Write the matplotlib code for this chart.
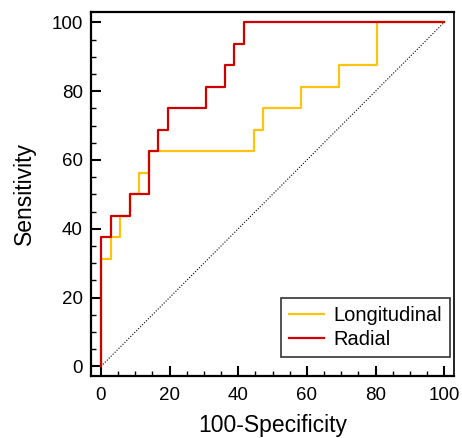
import numpy as np
import matplotlib.pyplot as plt
from matplotlib.ticker import MultipleLocator

plt.rcParams['font.family'] = ['Liberation Sans', 'DejaVu Sans']

# ROC data: cumulative false-positive / true-positive counts at each cut-off
n_neg = 36
n_pos = 16

long_fp = [0, 1, 2, 3, 4, 5, 16, 17, 21, 25, 29, 36]
long_tp = [0, 5, 6, 7, 8, 9, 10, 11, 12, 13, 14, 16]

radial_fp = [0, 1, 3, 5, 6, 7, 11, 13, 14, 15, 36]
radial_tp = [0, 6, 7, 8, 10, 11, 12, 13, 14, 15, 16]

series_names = ["Longitudinal", "Radial"]
series_colors = ["#FFC20E", "#D00000"]


def to_pct(counts, total):
    return np.array(counts) / total * 100


fig = plt.figure(figsize=(4.62, 4.38), dpi=100)
ax = fig.add_axes([0.197, 0.1416, 0.786, 0.831])

# reference diagonal
ax.plot([0, 100], [0, 100], color="black", lw=0.8, ls=(0, (1, 1.5)), zorder=1)

ax.plot(to_pct(long_fp, n_neg), to_pct(long_tp, n_pos), drawstyle="steps-pre",
        color=series_colors[0], lw=1.6, label=series_names[0], zorder=2)
ax.plot(to_pct(radial_fp, n_neg), to_pct(radial_tp, n_pos), drawstyle="steps-pre",
        color=series_colors[1], lw=1.6, label=series_names[1], zorder=3)

ax.set_xlim(-2.9, 102.9)
ax.set_ylim(-2.8, 103)
ax.xaxis.set_major_locator(MultipleLocator(20))
ax.yaxis.set_major_locator(MultipleLocator(20))
ax.xaxis.set_minor_locator(MultipleLocator(5))
ax.yaxis.set_minor_locator(MultipleLocator(5))
ax.tick_params(which="major", direction="in", length=7, width=1.5, labelsize=13.5, pad=6)
ax.tick_params(axis="x", which="major", pad=8)
ax.tick_params(which="minor", direction="in", length=3.5, width=1)

for side in ["left", "bottom", "top"]:
    ax.spines[side].set_linewidth(1.6)
ax.spines["right"].set_linewidth(1.4)
ax.spines["right"].set_color("#222222")

ax.set_xlabel("100-Specificity", fontsize=16.5, labelpad=7)
ax.set_ylabel("Sensitivity", fontsize=16.5, labelpad=11)

leg = ax.legend(loc="lower right", fontsize=14.5, frameon=True, fancybox=False,
                edgecolor="black", borderaxespad=0.2, handlelength=1.75,
                handletextpad=0.45, borderpad=0.4, labelspacing=0.25,
                bbox_to_anchor=(1.0, 0.04))
leg.get_frame().set_linewidth(1.2)

fig.savefig("out.png", dpi=100)
